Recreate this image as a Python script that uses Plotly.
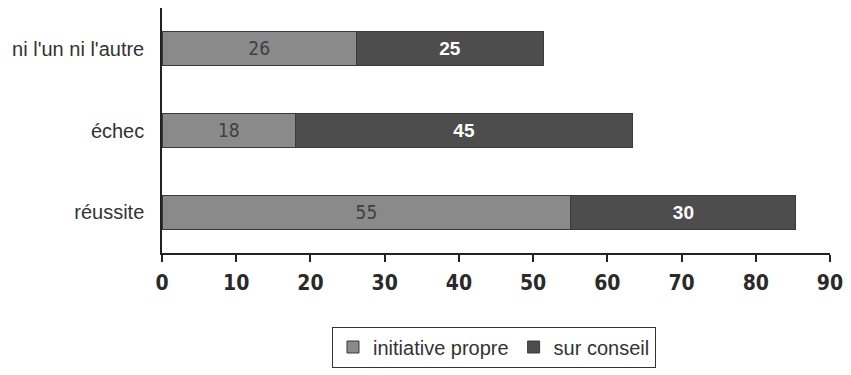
import plotly.graph_objects as go

categories = ["réussite", "échec", "ni l'un ni l'autre"]
initiative_propre = [55.1, 18.0, 26.2]
sur_conseil = [30.3, 45.4, 25.2]
x_ticks = [0, 10, 20, 30, 40, 50, 60, 70, 80, 90]

NARROW = "Liberation Sans Narrow, DejaVu Sans Condensed, Arial Narrow, sans-serif"

fig = go.Figure()
fig.add_trace(go.Bar(
    y=categories, x=initiative_propre, orientation="h", name="initiative propre",
    marker=dict(color="#8a8a8a", line=dict(color="#3a3a3a", width=1)),
    texttemplate="%{x:.0f}", textposition="inside", insidetextanchor="middle",
    textfont=dict(family=NARROW, size=21, color="#404040"),
))
fig.add_trace(go.Bar(
    y=categories, x=sur_conseil, orientation="h", name="sur conseil",
    marker=dict(color="#4d4d4d", line=dict(color="#3a3a3a", width=1)),
    texttemplate="<b>%{x:.0f}</b>", textposition="inside", insidetextanchor="middle",
    textfont=dict(family="Liberation Sans, Arial, sans-serif", size=19, color="white"),
))

fig.update_layout(
    barmode="stack", bargap=0.58,
    width=851, height=375,
    margin=dict(l=162, r=14, t=8, b=117),
    paper_bgcolor="white", plot_bgcolor="white",
    showlegend=True,
    legend=dict(orientation="h", x=0.497, xref="paper", xanchor="center",
                y=-0.30, yanchor="top",
                bordercolor="#333", borderwidth=1,
                font=dict(family="Liberation Sans, Arial, sans-serif", size=20, color="#333"),
                itemwidth=30, traceorder="normal", tracegroupgap=0),
    uniformtext=dict(mode="show", minsize=10),
)
fig.update_xaxes(
    range=[0, 90], tickvals=x_ticks, ticktext=["<b>%d</b>" % v for v in x_ticks],
    showline=True, linecolor="#222", linewidth=1.5,
    ticks="outside", ticklen=7, tickcolor="#222", tickwidth=1.5,
    showgrid=False, zeroline=False,
    tickfont=dict(family=NARROW, size=21, color="#2a2a2a"),
    ticklabelstandoff=3,
)
fig.update_yaxes(
    categoryorder="array", categoryarray=categories,
    showline=True, linecolor="#222", linewidth=1.5,
    ticks="", showgrid=False, zeroline=False,
    tickfont=dict(family="Liberation Sans, Arial, sans-serif", size=20, color="#333"),
    ticklabelstandoff=12,
)

fig.write_html("out.html")
